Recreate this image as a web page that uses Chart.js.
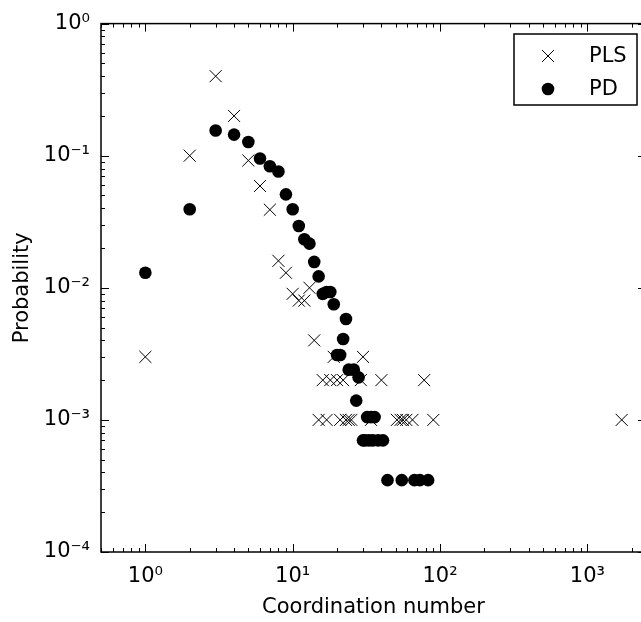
<!DOCTYPE html>
<html><head><meta charset="utf-8">
<script src="https://cdn.jsdelivr.net/npm/chart.js@4.4.0/dist/chart.umd.min.js"></script>
<style>
html,body{margin:0;padding:0;overflow:hidden;background:#fff;width:641px;height:622px}
#wrap{position:absolute;left:0;top:0;width:660px;height:622px}
</style></head><body>
<div id="wrap"><canvas id="c" width="660" height="622"></canvas></div>
<script>
// ---- data ----
const seriesNames = ['PLS', 'PD'];
const plsX = [1,2,3,4,5,6,7,8,9,10,11,12,13,14,15,16,17,18,19,20,21,22,23,24,25,29,30,34,40,51,54,56,59,65,78,90,1710];
const plsY = [0.003,0.1,0.4,0.2,0.092,0.059,0.039,0.016,0.013,0.009,0.008,0.008,0.01,0.004,0.001,0.002,0.001,0.002,0.003,0.002,0.001,0.002,0.001,0.001,0.001,0.002,0.003,0.001,0.002,0.001,0.001,0.001,0.001,0.001,0.002,0.001,0.001];
const pdX = [1,2,3,4,5,6,7,8,9,10,11,12,13,14,15,16,17,18,19,20,21,22,23,24,26,27,28,30,31,32,33,34,35,36,38,41,44,55,67,73,83];
const pdY = [0.013,0.0393,0.155,0.1445,0.127,0.0953,0.0833,0.076,0.051,0.0393,0.0294,0.0233,0.0216,0.0157,0.0122,0.009,0.0093,0.0093,0.0075,0.0031,0.0031,0.0041,0.0058,0.0024,0.0024,0.0014,0.0021,0.0007,0.0007,0.00105,0.0007,0.00105,0.0007,0.00105,0.0007,0.0007,0.00035,0.00035,0.00035,0.00035,0.00035];
const xTickValues = [1,10,100,1000];
const xTickLabels = ['10⁰','10¹','10²','10³'];
const yTickValues = [1e-4,1e-3,1e-2,1e-1,1];
const yTickLabels = ['10⁻⁴','10⁻³','10⁻²','10⁻¹','10⁰'];
const xTitle = 'Coordination number';
const yTitle = 'Probability';

const FONT = 'DejaVu Sans';
const FS = 21;

const toPts = (xs, ys) => xs.map((v, i) => ({x: v, y: ys[i]}));

const frameAndTicks = {
  id: 'frameAndTicks',
  afterDatasetsDraw(chart) {
    const {ctx, chartArea: a, scales: {x, y}} = chart;
    const list = (lo, hi) => {
      const out = [];
      for (let e = Math.floor(Math.log10(lo)) - 1; e <= Math.ceil(Math.log10(hi)); e++) {
        for (let m = 1; m < 10; m++) {
          const v = m * Math.pow(10, e);
          if (v >= lo * 0.9999 && v <= hi * 1.0001) out.push({v, major: m === 1});
        }
      }
      return out;
    };
    ctx.save();
    ctx.strokeStyle = '#000';
    ctx.lineWidth = 1;
    ctx.beginPath();
    for (const t of list(x.min, x.max)) {
      const px = Math.round(x.getPixelForValue(t.v)) + 0.5;
      const L = t.major ? 8 : 4;
      ctx.moveTo(px, a.bottom); ctx.lineTo(px, a.bottom - L);
      ctx.moveTo(px, a.top); ctx.lineTo(px, a.top + L);
    }
    for (const t of list(y.min, y.max)) {
      const py = Math.round(y.getPixelForValue(t.v)) + 0.5;
      const L = t.major ? 8 : 4;
      ctx.moveTo(a.left, py); ctx.lineTo(a.left + L, py);
      ctx.moveTo(a.right, py); ctx.lineTo(a.right - L, py);
    }
    ctx.stroke();
    ctx.lineWidth = 1.5;
    ctx.strokeRect(a.left, a.top, a.right - a.left, a.bottom - a.top);
    ctx.restore();
  }
};

const boxLegend = {
  id: 'boxLegend',
  afterDraw(chart) {
    const {ctx} = chart;
    const bx = 514, by = 34, bw = 123, bh = 71;
    ctx.save();
    ctx.fillStyle = '#fff';
    ctx.fillRect(bx, by, bw, bh);
    ctx.strokeStyle = '#000';
    ctx.lineWidth = 1.5;
    ctx.strokeRect(bx, by, bw, bh);
    const rows = [56, 89];
    chart.data.datasets.forEach((ds, i) => {
      const cy = rows[i];
      ctx.strokeStyle = '#000';
      ctx.fillStyle = '#000';
      ctx.lineWidth = ds.borderWidth;
      Chart.helpers.drawPoint(ctx, {pointStyle: ds.pointStyle, radius: ds.pointRadius, borderWidth: ds.borderWidth, rotation: 0}, 548, cy);
      ctx.fillStyle = '#000';
      ctx.font = FS + 'px "' + FONT + '"';
      ctx.textAlign = 'left';
      ctx.textBaseline = 'middle';
      ctx.fillText(ds.label, 589, cy + 1);
    });
    ctx.restore();
  }
};

new Chart(document.getElementById('c'), {
  type: 'scatter',
  data: {
    datasets: [
      {label: seriesNames[0], data: toPts(plsX, plsY), pointStyle: 'crossRot', pointRadius: 8.5, pointHoverRadius: 8.5,
       borderColor: '#000', backgroundColor: '#000', borderWidth: 1, order: 1, clip: false},
      {label: seriesNames[1], data: toPts(pdX, pdY), pointStyle: 'circle', pointRadius: 6.3, pointHoverRadius: 6.3,
       borderColor: '#000', backgroundColor: '#000', borderWidth: 0, order: 0, clip: false}
    ]
  },
  options: {
    responsive: false,
    animation: false,
    devicePixelRatio: 1,
    events: [],
    layout: {padding: {top: 22, right: 14, left: 0, bottom: 0}},
    plugins: {legend: {display: false}, tooltip: {enabled: false}},
    scales: {
      x: {
        type: 'logarithmic', min: 0.5, max: 2500, position: 'bottom',
        grid: {display: false, drawTicks: false},
        border: {display: false},
        afterBuildTicks: (s) => { s.ticks = xTickValues.map(v => ({value: v})); },
        afterFit: (s) => { s.height = 70; },
        ticks: {
          autoSkip: false, maxRotation: 0, padding: 12, color: '#000',
          font: {family: FONT, size: FS},
          callback: (v) => { const i = xTickValues.indexOf(v); return i >= 0 ? xTickLabels[i] : ''; }
        },
        title: {display: true, text: xTitle, color: '#000', font: {family: FONT, size: FS}, padding: {bottom: 2, top: 0}}
      },
      y: {
        type: 'logarithmic', min: 1e-4, max: 1, position: 'left',
        grid: {display: false, drawTicks: false},
        border: {display: false},
        afterBuildTicks: (s) => { s.ticks = yTickValues.map(v => ({value: v})); },
        afterFit: (s) => { s.width = 101; },
        ticks: {
          autoSkip: false, padding: 11, color: '#000',
          font: {family: FONT, size: FS},
          callback: (v) => { const i = yTickValues.findIndex(t => Math.abs(t - v) / t < 1e-9); return i >= 0 ? yTickLabels[i] : ''; }
        },
        title: {display: true, text: yTitle, color: '#000', font: {family: FONT, size: FS}, padding: {top: 10, bottom: 0}}
      }
    }
  },
  plugins: [frameAndTicks, boxLegend]
});
</script>
</body></html>
